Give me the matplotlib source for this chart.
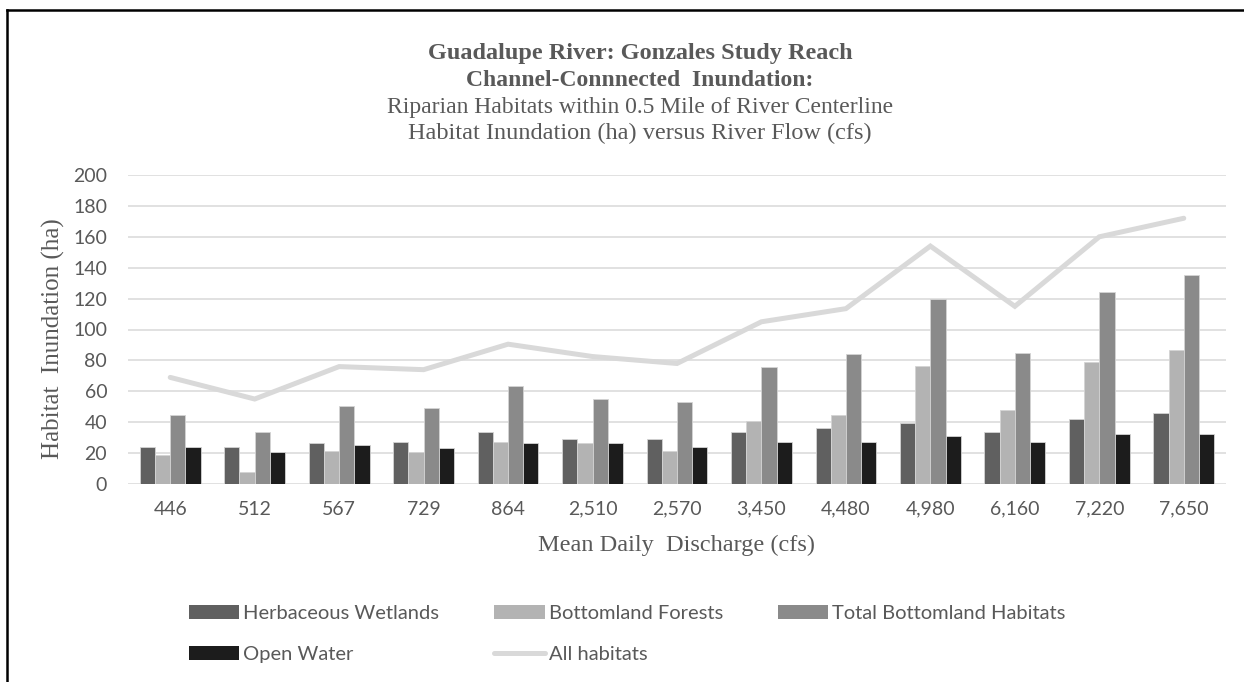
import matplotlib
matplotlib.use("Agg")
import matplotlib.pyplot as plt
import numpy as np
from matplotlib.lines import Line2D

categories = ["446", "512", "567", "729", "864", "2,510", "2,570", "3,450",
              "4,480", "4,980", "6,160", "7,220", "7,650"]
herbaceous_wetlands = [24, 24, 26.5, 27.5, 33.5, 29, 29, 33.5, 36, 39.5, 33.5, 42, 46]
bottomland_forests = [19, 8, 21.5, 20.5, 27.5, 26.5, 21.5, 41, 44.5, 76.5, 48, 79, 86.5]
total_bottomland = [44.5, 33.5, 50.5, 49, 63.5, 55, 53, 75.5, 84, 120, 85, 124.5, 135.5]
open_water = [24, 20.5, 25.5, 23, 26.5, 26.5, 24, 27.5, 27.5, 31, 27.5, 32.5, 32.5]
all_habitats = [69, 55, 76, 74, 90.5, 82.5, 78, 105, 113.5, 154, 115, 160, 172]

series_names = ["Herbaceous Wetlands", "Bottomland Forests",
                "Total Bottomland Habitats", "Open Water"]
bar_colors = ["#606060", "#b3b3b3", "#8a8a8a", "#1c1c1c"]
line_color = "#d9d9d9"
text_color = "#595959"
serif = "Liberation Serif"
sans = "Lato"

fig = plt.figure(figsize=(12.44, 6.82), dpi=100)
ax = fig.add_axes([128/1244, 1-484/682, (1226-128)/1244, (484-175)/682])

x = np.arange(len(categories))
w = 0.18
bars = []
for i, (vals, c, name) in enumerate(zip(
        [herbaceous_wetlands, bottomland_forests, total_bottomland, open_water],
        bar_colors, series_names)):
    b = ax.bar(x + (i - 1.5) * w, vals, width=w, color=c, edgecolor="#d4d4d4",
               linewidth=0.6, zorder=2, label=name)
    bars.append(b)

ln, = ax.plot(x, all_habitats, color=line_color, lw=3.6, zorder=3,
              solid_capstyle="round", solid_joinstyle="miter", label="All habitats")

ax.set_xlim(-0.5, len(categories) - 0.5)
ax.set_ylim(0, 200)
ax.set_yticks(np.arange(0, 201, 20))
ax.set_xticks(x)
ax.set_xticklabels(categories)
ax.yaxis.grid(True, color="#d9d9d9", lw=1.1, zorder=0)
ax.set_axisbelow(True)
for s in ax.spines.values():
    s.set_visible(False)
ax.tick_params(axis="both", length=0, labelsize=14, labelcolor=text_color)
ax.tick_params(axis="y", pad=15)
ax.tick_params(axis="x", pad=12)
for lab in ax.get_xticklabels() + ax.get_yticklabels():
    lab.set_fontfamily(sans)

# Titles
tx = 640/1244
fig.text(tx, 1-53/682, "Guadalupe River: Gonzales Study Reach", ha="center", va="center",
         fontsize=17.5, fontweight="bold", family=serif, color=text_color)
fig.text(tx, 1-80/682, "Channel-Connnected  Inundation:", ha="center", va="center",
         fontsize=17, fontweight="bold", family=serif, color=text_color)
fig.text(tx, 1-107/682, "Riparian Habitats within 0.5 Mile of River Centerline", ha="center",
         va="center", fontsize=17, family=serif, color=text_color)
fig.text(tx, 1-133/682, "Habitat Inundation (ha) versus River Flow (cfs)", ha="center",
         va="center", fontsize=17.5, family=serif, color=text_color)

fig.text((128+1226)/2/1244, 1-545/682, "Mean Daily  Discharge (cfs)", ha="center", va="center",
         fontsize=17.5, family=serif, color=text_color)
fig.text(53/1244, 1-339/682, "Habitat  Inundation (ha)", ha="center", va="center",
         rotation=90, fontsize=18, family=serif, color=text_color)

# Legend
handles = [bars[0], bars[3], bars[1], ln, bars[2]]
labels = [series_names[0], series_names[3], series_names[1], "All habitats", series_names[2]]
leg = fig.legend(handles, labels, loc="upper left", bbox_to_anchor=(189/1244, 1-605/682),
                 ncol=3, frameon=False, borderpad=0, borderaxespad=0,
                 handlelength=2.49, handleheight=0.65, handletextpad=0.2,
                 columnspacing=2.74, labelspacing=1.2,
                 prop={"family": sans, "size": 14.5})
for t in leg.get_texts():
    t.set_color(text_color)
for h in leg.legend_handles:
    try:
        h.set_edgecolor("none")
    except Exception:
        pass

# Outer frame (top and left edges visible)
fig.add_artist(Line2D([7/1244, 1.0], [1-10/682, 1-10/682], color="black", lw=1.8,
                      transform=fig.transFigure))
fig.add_artist(Line2D([7/1244, 7/1244], [1-10/682, 0.0], color="black", lw=1.8,
                      transform=fig.transFigure))

fig.savefig("out.png", dpi=100, facecolor="white")
